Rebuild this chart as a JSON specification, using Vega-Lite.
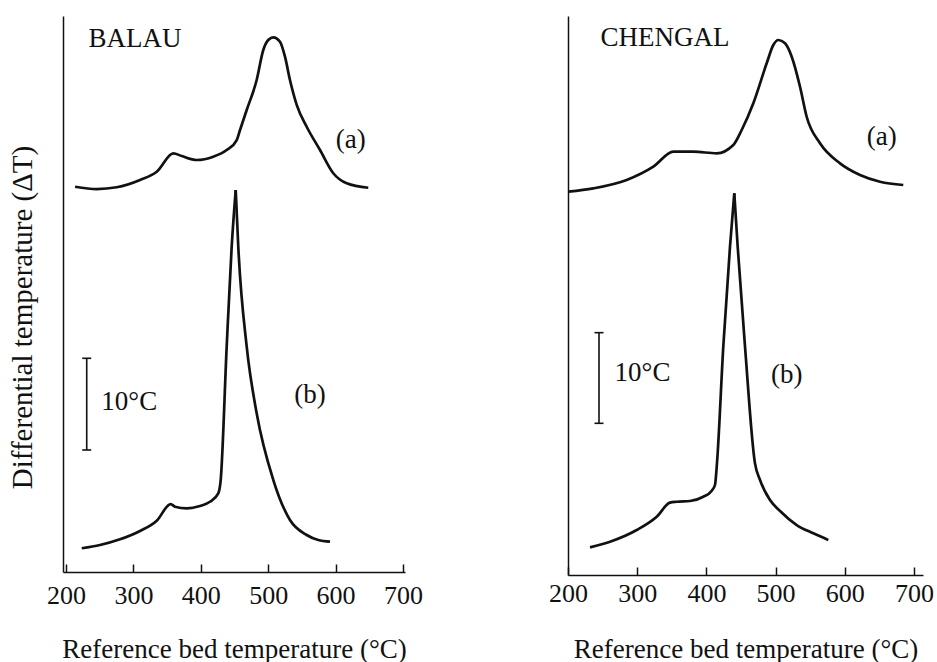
{
  "$schema": "https://vega.github.io/schema/vega-lite/v6.json",
  "padding": {"left": 8, "top": 16, "right": 0, "bottom": 0},
  "background": "white",
  "bounds": "flush",
  "spacing": 163,
  "datasets": {
    "balau": [
      {"curve": "a", "T": 213.4, "dT": 42.06}, {"curve": "a", "T": 245.5, "dT": 41.81}, {"curve": "a", "T": 275.2, "dT": 42.0},
      {"curve": "a", "T": 309.8, "dT": 42.79}, {"curve": "a", "T": 334.6, "dT": 43.7}, {"curve": "a", "T": 359.2, "dT": 45.71},
      {"curve": "a", "T": 371.7, "dT": 45.41}, {"curve": "a", "T": 393.9, "dT": 44.98}, {"curve": "a", "T": 418.5, "dT": 45.34},
      {"curve": "a", "T": 438.4, "dT": 46.07}, {"curve": "a", "T": 453.3, "dT": 47.16}, {"curve": "a", "T": 458.2, "dT": 48.25},
      {"curve": "a", "T": 468.1, "dT": 50.44}, {"curve": "a", "T": 482.9, "dT": 53.71}, {"curve": "a", "T": 492.7, "dT": 56.99},
      {"curve": "a", "T": 500.1, "dT": 58.08}, {"curve": "a", "T": 507.6, "dT": 58.37}, {"curve": "a", "T": 517.5, "dT": 57.89},
      {"curve": "a", "T": 524.9, "dT": 56.26}, {"curve": "a", "T": 532.3, "dT": 53.71}, {"curve": "a", "T": 542.3, "dT": 51.0},
      {"curve": "a", "T": 557.1, "dT": 48.61}, {"curve": "a", "T": 576.9, "dT": 46.07}, {"curve": "a", "T": 596.6, "dT": 43.53},
      {"curve": "a", "T": 616.5, "dT": 42.43}, {"curve": "a", "T": 648.5, "dT": 41.95},
      {"curve": "b1", "T": 223.3, "dT": 2.59}, {"curve": "b1", "T": 250.4, "dT": 2.95}, {"curve": "b1", "T": 280.1, "dT": 3.57},
      {"curve": "b1", "T": 309.8, "dT": 4.48}, {"curve": "b1", "T": 334.6, "dT": 5.6}, {"curve": "b1", "T": 355.3, "dT": 7.42},
      {"curve": "b1", "T": 361.7, "dT": 7.13}, {"curve": "b1", "T": 379.1, "dT": 6.95}, {"curve": "b1", "T": 398.8, "dT": 7.21},
      {"curve": "b1", "T": 413.6, "dT": 7.67}, {"curve": "b1", "T": 425.9, "dT": 8.59}, {"curve": "b1", "T": 429.5, "dT": 10.04},
      {"curve": "b1", "T": 438.4, "dT": 24.6}, {"curve": "b1", "T": 445.8, "dT": 35.51}, {"curve": "b1", "T": 451.8, "dT": 41.7},
      {"curve": "b2", "T": 451.8, "dT": 41.7},
      {"curve": "b2", "T": 455.6, "dT": 35.51}, {"curve": "b2", "T": 468.1, "dT": 24.6}, {"curve": "b2", "T": 482.9, "dT": 17.33},
      {"curve": "b2", "T": 507.6, "dT": 10.04}, {"curve": "b2", "T": 532.3, "dT": 5.68}, {"curve": "b2", "T": 557.1, "dT": 4.04},
      {"curve": "b2", "T": 574.3, "dT": 3.49}, {"curve": "b2", "T": 591.7, "dT": 3.31}
    ],
    "chengal": [
      {"curve": "a", "T": 200.4, "dT": 42.12}, {"curve": "a", "T": 236.6, "dT": 42.49}, {"curve": "a", "T": 284.8, "dT": 43.41},
      {"curve": "a", "T": 323.3, "dT": 44.87}, {"curve": "a", "T": 352.2, "dT": 46.52}, {"curve": "a", "T": 381.1, "dT": 46.52},
      {"curve": "a", "T": 414.9, "dT": 46.34}, {"curve": "a", "T": 438.9, "dT": 47.25}, {"curve": "a", "T": 451.0, "dT": 48.9},
      {"curve": "a", "T": 467.8, "dT": 51.84}, {"curve": "a", "T": 487.1, "dT": 56.23}, {"curve": "a", "T": 496.7, "dT": 58.24},
      {"curve": "a", "T": 503.9, "dT": 58.79}, {"curve": "a", "T": 513.6, "dT": 58.43}, {"curve": "a", "T": 523.3, "dT": 56.96},
      {"curve": "a", "T": 535.3, "dT": 53.66}, {"curve": "a", "T": 544.9, "dT": 50.36}, {"curve": "a", "T": 564.2, "dT": 47.44},
      {"curve": "a", "T": 593.1, "dT": 45.24}, {"curve": "a", "T": 622.0, "dT": 43.96}, {"curve": "a", "T": 650.9, "dT": 43.22},
      {"curve": "a", "T": 684.5, "dT": 42.86},
      {"curve": "b1", "T": 231.8, "dT": 3.04}, {"curve": "b1", "T": 260.7, "dT": 3.66}, {"curve": "b1", "T": 299.3, "dT": 4.95},
      {"curve": "b1", "T": 328.2, "dT": 6.41}, {"curve": "b1", "T": 347.4, "dT": 7.95}, {"curve": "b1", "T": 357.1, "dT": 8.05},
      {"curve": "b1", "T": 376.3, "dT": 8.13}, {"curve": "b1", "T": 395.5, "dT": 8.6}, {"curve": "b1", "T": 407.7, "dT": 9.26},
      {"curve": "b1", "T": 412.4, "dT": 9.89}, {"curve": "b1", "T": 415.3, "dT": 12.31}, {"curve": "b1", "T": 424.4, "dT": 25.09},
      {"curve": "b1", "T": 434.1, "dT": 36.08}, {"curve": "b1", "T": 440.3, "dT": 41.95},
      {"curve": "b2", "T": 440.3, "dT": 41.95}, {"curve": "b2", "T": 445.2, "dT": 36.08},
      {"curve": "b2", "T": 455.8, "dT": 25.09}, {"curve": "b2", "T": 470.2, "dT": 12.27}, {"curve": "b2", "T": 477.5, "dT": 10.44},
      {"curve": "b2", "T": 491.9, "dT": 8.24}, {"curve": "b2", "T": 506.4, "dT": 7.03}, {"curve": "b2", "T": 530.5, "dT": 5.49},
      {"curve": "b2", "T": 554.5, "dT": 4.58}, {"curve": "b2", "T": 576.2, "dT": 3.85}
    ],
    "balauBar": [{"T": 230.7, "dT": 13.32, "dT2": 23.33}],
    "balauCap": [{"T": 230.7, "dT": 13.32}, {"T": 230.7, "dT": 23.33}],
    "balauText": [
      {"label": "BALAU", "T": 302.4, "dT": 58.19}, {"label": "(a)", "T": 622.6, "dT": 47.16},
      {"label": "(b)", "T": 562.0, "dT": 19.32}, {"label": "10°C", "T": 293.8, "dT": 18.59}
    ],
    "chengalBar": [{"T": 244.8, "dT": 16.67, "dT2": 26.63}],
    "chengalCap": [{"T": 244.8, "dT": 16.67}, {"T": 244.8, "dT": 26.63}],
    "chengalText": [
      {"label": "CHENGAL", "T": 340.2, "dT": 59.04}, {"label": "(a)", "T": 653.3, "dT": 48.16},
      {"label": "(b)", "T": 516.0, "dT": 21.98}, {"label": "10°C", "T": 307.7, "dT": 22.16}
    ]
  },
  "hconcat": [
    {
      "width": 342,
      "height": 556,
      "encoding": {
        "x": {
          "field": "T", "type": "quantitative",
          "scale": {"domain": [195.5, 703], "nice": false, "zero": false},
          "axis": {
            "values": [200, 300, 400, 500, 600, 700], "format": "d",
            "tickSize": -8, "tickWidth": 1.5, "tickColor": "#111",
            "domainColor": "#111", "domainWidth": 1.5,
            "labelFont": "Liberation Serif", "labelFontSize": 26, "labelColor": "#111",
            "labelBaseline": "alphabetic", "labelPadding": 39, "labelFlush": false, "labelOverlap": false,
            "grid": false,
            "title": "Reference bed temperature (°C)", "titleFont": "Liberation Serif", "titleFontSize": 27,
            "titleFontWeight": "normal", "titleColor": "#111", "titleBaseline": "alphabetic", "titleY": 85
          }
        },
        "y": {
          "field": "dT", "type": "quantitative",
          "scale": {"domain": [0, 60.7], "nice": false, "zero": false},
          "axis": {
            "ticks": false, "labels": false, "grid": false,
            "domainColor": "#111", "domainWidth": 1.5,
            "title": "Differential temperature (ΔT)", "titleFont": "Liberation Serif", "titleFontSize": 29,
            "titleFontWeight": "normal", "titleColor": "#111", "titleBaseline": "middle", "titleAlign": "center",
            "titleX": -41, "titleY": 301
          }
        }
      },
      "layer": [
        {
          "data": {"name": "balau"},
          "mark": {"type": "line", "interpolate": "monotone", "strokeWidth": 2.7, "color": "#111", "strokeJoin": "round"},
          "encoding": {"detail": {"field": "curve"}}
        },
        {
          "data": {"name": "balauBar"},
          "mark": {"type": "rule", "strokeWidth": 1.6, "color": "#111"},
          "encoding": {"y2": {"field": "dT2"}}
        },
        {
          "data": {"name": "balauCap"},
          "mark": {"type": "tick", "orient": "horizontal", "size": 9, "thickness": 1.6, "color": "#111", "opacity": 1}
        },
        {
          "data": {"name": "balauText"},
          "mark": {"type": "text", "font": "Liberation Serif", "fontSize": 27, "color": "#111", "align": "center", "baseline": "middle"},
          "encoding": {"text": {"field": "label"}}
        }
      ]
    },
    {
      "width": 355,
      "height": 559,
      "encoding": {
        "x": {
          "field": "T", "type": "quantitative",
          "scale": {"domain": [200, 713], "nice": false, "zero": false},
          "axis": {
            "values": [200, 300, 400, 500, 600, 700], "format": "d",
            "tickSize": -8, "tickWidth": 1.5, "tickColor": "#111",
            "domainColor": "#111", "domainWidth": 1.5,
            "labelFont": "Liberation Serif", "labelFontSize": 26, "labelColor": "#111",
            "labelBaseline": "alphabetic", "labelPadding": 34, "labelFlush": false, "labelOverlap": false,
            "grid": false,
            "title": "Reference bed temperature (°C)", "titleFont": "Liberation Serif", "titleFontSize": 27,
            "titleFontWeight": "normal", "titleColor": "#111", "titleBaseline": "alphabetic", "titleY": 82
          }
        },
        "y": {
          "field": "dT", "type": "quantitative",
          "scale": {"domain": [0, 61.43], "nice": false, "zero": false},
          "axis": {
            "ticks": false, "labels": false, "grid": false, "title": null,
            "domainColor": "#111", "domainWidth": 1.5
          }
        }
      },
      "layer": [
        {
          "data": {"name": "chengal"},
          "mark": {"type": "line", "interpolate": "monotone", "strokeWidth": 2.7, "color": "#111", "strokeJoin": "round"},
          "encoding": {"detail": {"field": "curve"}}
        },
        {
          "data": {"name": "chengalBar"},
          "mark": {"type": "rule", "strokeWidth": 1.6, "color": "#111"},
          "encoding": {"y2": {"field": "dT2"}}
        },
        {
          "data": {"name": "chengalCap"},
          "mark": {"type": "tick", "orient": "horizontal", "size": 9, "thickness": 1.6, "color": "#111", "opacity": 1}
        },
        {
          "data": {"name": "chengalText"},
          "mark": {"type": "text", "font": "Liberation Serif", "fontSize": 27, "color": "#111", "align": "center", "baseline": "middle"},
          "encoding": {"text": {"field": "label"}}
        }
      ]
    }
  ],
  "config": {
    "view": {"stroke": null},
    "font": "Liberation Serif"
  }
}
